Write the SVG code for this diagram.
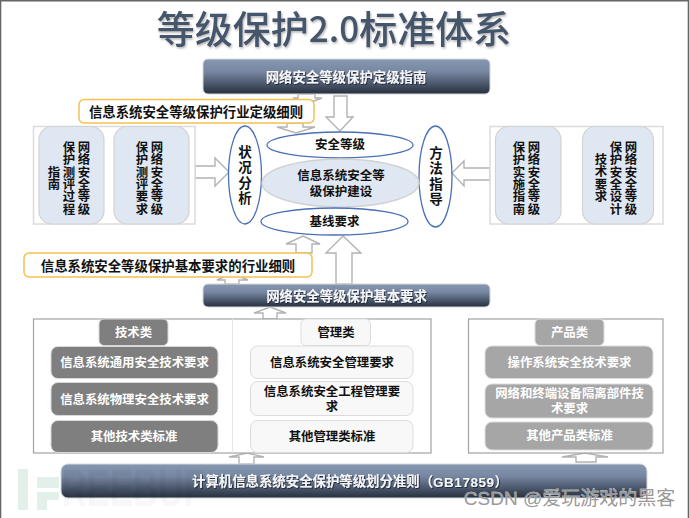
<svg xmlns="http://www.w3.org/2000/svg" width="690" height="518" viewBox="0 0 690 518">
<defs>
<linearGradient id="bar" x1="0" y1="0" x2="0" y2="1"><stop offset="0" stop-color="#8697b1"/><stop offset="0.35" stop-color="#7888a2"/><stop offset="1" stop-color="#262f3e"/></linearGradient>
<filter id="ts" x="-5%" y="-10%" width="110%" height="125%"><feDropShadow dx="1" dy="1.5" stdDeviation="0.8" flood-color="#000" flood-opacity="0.3"/></filter>
<filter id="ws" x="-5%" y="-20%" width="110%" height="140%"><feDropShadow dx="1" dy="1" stdDeviation="0.6" flood-color="#1c2430" flood-opacity="0.8"/></filter>
</defs>
<style>
text{font-family:"Liberation Sans","Noto Sans CJK SC",sans-serif;font-size:13.4px;font-weight:700;text-anchor:middle;dominant-baseline:central;fill:#111}
.w{fill:#f4f6f8}
.bw{fill:#fff}
.s{font-size:12.4px}
.m{font-size:12.5px}
text.v{font-family:"Noto Sans CJK SC",sans-serif;writing-mode:vertical-rl;dominant-baseline:auto;font-size:12.4px}
text.vb{font-family:"Noto Sans CJK SC",sans-serif;writing-mode:vertical-rl;dominant-baseline:auto;font-size:13.5px;letter-spacing:2px}
.bar{fill:url(#bar);stroke:#d5d8dc;stroke-width:1}
.yel{fill:#fff;stroke:#f4c14f;stroke-width:1.5}
.pan{fill:#fff;stroke:#dcdcdc;stroke-width:1.5}
.inner{fill:#dfe8f2;stroke:#d2d2d2;stroke-width:1.2}
.oval{fill:#fff;stroke:#4a70b8;stroke-width:1.3}
.core{fill:#dfe8f2;stroke:#d2d2d2;stroke-width:1.4}
.frame{fill:#fff;stroke:#a3a3a3;stroke-width:1.2}
.dk{fill:#7f7f7f;stroke:#d8d8d8;stroke-width:1}
.lt{fill:#f8f8f8;stroke:#dcdcdc;stroke-width:1}
.md{fill:#a6a6a6;stroke:#dcdcdc;stroke-width:1}
.arr{fill:#fff;stroke:#b3b3b3;stroke-width:1.4;stroke-linejoin:miter}
</style>
<rect width="690" height="518" fill="#fff"/>
<path d="M0.5 518V0.8H688.5V518" fill="none" stroke="#666" stroke-width="1.6"/>

<g id="title"><text x="334" y="26" filter="url(#ts)" style="font-family:'Noto Sans CJK SC',sans-serif;font-size:38px;font-weight:500;fill:#44546a">等级保护<tspan style="font-size:35px">2.0</tspan>标准体系</text></g>

<g id="watermark-logo">
<rect x="18" y="469" width="10" height="41" fill="#e3f0ea"/>
<path d="M37 477H59V488H37ZM37 492H59V500H47V510H37Z" fill="#e3f0ea"/>
</g>

<g id="connectors">
<path class="arr" d="M298 94V98H293L306 104L322 98H315V94Z"/>
<path class="arr" d="M334 96H347V117H353L340 131L326 117H334Z"/>
<path class="arr" d="M287 123V127H277L296 133L315 127H303V123Z"/>
<path class="arr" d="M195 166H215V158L229 172L215 186V178H195Z"/>
<path class="arr" d="M490 168H464V161L452 173L464 186V180H490Z"/>
<path class="arr" d="M336 284V253H326L343 236L361 253H352V284Z"/>
<path class="arr" d="M296 253V244H286L303 236L320 244H312V253Z"/>
<path class="arr" d="M225 284V280H217L232 273L248 280H239V284Z"/>
<path class="arr" d="M263 319V313H254L270 307L286 313H277V319Z"/>
<path class="arr" d="M239 464V457H229L247 453L264 457H254V464Z"/>
<path class="arr" d="M576 462V457H562L585 453L608 457H596V462Z"/>
</g>

<g id="node-top"><rect class="bar" x="203" y="59" width="287" height="35" rx="5"/><text class="w" x="346" y="77" filter="url(#ws)">网络安全等级保护定级指南</text></g>

<g id="node-industry-grade"><rect class="yel" x="79" y="99.500" width="235" height="23.500" rx="5"/><text x="196" y="112">信息系统安全等级保护行业定级细则</text></g>

<g id="node-left-panel">
<rect class="pan" x="33.500" y="126.500" width="161.500" height="97.500"/>
<rect class="inner" x="39" y="126.500" width="65" height="97.500" rx="13"/>
<rect class="inner" x="114" y="126.500" width="75" height="97.500" rx="13"/>
<text class="v" x="84" y="178">网络安全等级</text>
<text class="v" x="69" y="178">保护测评过程</text>
<text class="v" x="54" y="178">指南</text>
<text class="v" x="157" y="178">网络安全等级</text>
<text class="v" x="142" y="178">保护测评要求</text>
</g>

<g id="node-right-panel">
<rect class="pan" x="490" y="126.500" width="173" height="97.500"/>
<rect class="inner" x="495.500" y="126.500" width="65.500" height="97.500" rx="13"/>
<rect class="inner" x="582.500" y="126.500" width="71" height="97.500" rx="13"/>
<text class="v" x="534" y="178">网络安全等级</text>
<text class="v" x="519" y="178">保护实施指南</text>
<text class="v" x="631" y="178">网络安全等级</text>
<text class="v" x="616" y="178">保护安全设计</text>
<text class="v" x="601" y="178">技术要求</text>
</g>

<g id="node-status"><ellipse class="oval" cx="245" cy="175" rx="16.500" ry="49"/><text class="vb" x="245" y="176">状况分析</text></g>
<g id="node-method"><ellipse class="oval" cx="435.500" cy="176.500" rx="16.500" ry="50.500"/><text class="vb" x="436" y="177">方法指导</text></g>
<g id="node-level"><ellipse class="oval" cx="340" cy="145" rx="73" ry="13"/><text class="m" x="340" y="145">安全等级</text></g>
<g id="node-core"><ellipse class="core" cx="340.500" cy="183" rx="78.500" ry="24"/><text class="m" x="341" y="176">信息系统安全等</text><text class="m" x="341" y="191.500">级保护建设</text></g>
<g id="node-base"><ellipse class="oval" cx="334.500" cy="221.500" rx="73.500" ry="13.500"/><text class="m" x="334.500" y="221.500">基线要求</text></g>

<g id="node-industry-base"><rect class="yel" x="24" y="253" width="288" height="24" rx="5"/><text x="168" y="266">信息系统安全等级保护基本要求的行业细则</text></g>

<g id="node-basic"><rect class="bar" x="203" y="284" width="287" height="23" rx="5"/><text class="w" x="346.500" y="296" filter="url(#ws)">网络安全等级保护基本要求</text></g>

<g id="node-frame-left">
<rect class="frame" x="33.500" y="319" width="397.500" height="134"/>
<line x1="232.500" y1="319" x2="232.500" y2="453" stroke="#e4e4e4" stroke-width="1"/>
</g>
<g id="node-frame-right"><rect class="frame" x="468.500" y="319" width="194.500" height="134"/></g>

<g id="node-tech">
<rect class="dk" x="99" y="319" width="69" height="26.500" rx="5"/><text class="bw s" x="133.500" y="332.500">技术类</text>
<rect class="dk" x="51" y="346.500" width="167" height="32" rx="7"/><text class="bw s" x="134.500" y="363">信息系统通用安全技术要求</text>
<rect class="dk" x="51" y="382.500" width="167" height="33" rx="7"/><text class="bw s" x="134.500" y="399.500">信息系统物理安全技术要求</text>
<rect class="dk" x="51" y="420.500" width="167" height="32" rx="7"/><text class="bw s" x="134" y="436.500">其他技术类标准</text>
</g>

<g id="node-mgmt">
<rect class="lt" x="301" y="319" width="69.500" height="26.500" rx="5"/><text class="s" x="336" y="333">管理类</text>
<rect class="lt" x="250.500" y="346" width="162.500" height="32.500" rx="7"/><text class="s" x="332" y="363">信息系统安全管理要求</text>
<rect class="lt" x="250.500" y="381.500" width="162.500" height="34" rx="7"/><text class="s" x="332" y="392">信息系统安全工程管理要</text><text class="s" x="332" y="407">求</text>
<rect class="lt" x="250.500" y="420.500" width="162.500" height="32" rx="7"/><text class="s" x="332" y="437">其他管理类标准</text>
</g>

<g id="node-product">
<rect class="md" x="535" y="319" width="69" height="26.500" rx="5"/><text class="bw s" x="569.500" y="333">产品类</text>
<rect class="md" x="485" y="346" width="168" height="32.500" rx="7"/><text class="bw s" x="569.500" y="363">操作系统安全技术要求</text>
<rect class="md" x="485" y="384" width="168" height="34" rx="7"/><text class="bw s" x="569.500" y="394">网络和终端设备隔离部件技</text><text class="bw s" x="569.500" y="409">术要求</text>
<rect class="md" x="485" y="422" width="168" height="28" rx="7"/><text class="bw s" x="569.500" y="436">其他产品类标准</text>
</g>

<g id="node-bottom"><rect class="bar" x="61" y="464" width="586" height="34" rx="7"/><text class="w" x="350" y="481.500" filter="url(#ws)">计算机信息系统安全保护等级划分准则（<tspan style="letter-spacing:0.6px">GB17859</tspan>）</text></g>

<g id="watermarks">
<text x="133" y="488" textLength="143" lengthAdjust="spacingAndGlyphs" style="font-size:52px;fill:#000;fill-opacity:0.055">REEBUF</text>
<text x="569.500" y="498" style="font-size:19px;font-weight:400;fill:#9a9a9a;stroke:#fff;stroke-width:0.4;paint-order:stroke">CSDN @爱玩游戏的黑客</text>
</g>
</svg>
